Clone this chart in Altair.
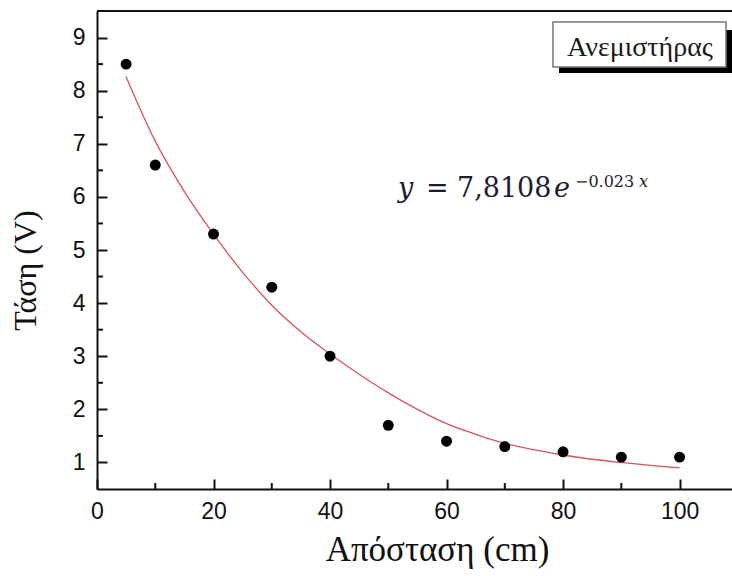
import altair as alt
import pandas as pd

# measured points
dist_cm = [5, 10, 20, 30, 40, 50, 60, 70, 80, 90, 100]
voltage = [8.5, 6.6, 5.3, 4.3, 3.0, 1.7, 1.4, 1.3, 1.2, 1.1, 1.1]

# fitted curve
fit_x = [5, 10, 15, 20, 25, 30, 35, 40, 45, 50, 55, 60, 65, 70, 75, 80, 85, 90, 95, 100]
fit_y = [8.26, 7.05, 6.10, 5.30, 4.58, 3.96, 3.46, 3.04, 2.66, 2.31, 2.00, 1.73,
         1.53, 1.36, 1.24, 1.14, 1.06, 1.00, 0.945, 0.90]

x_major = [0, 20, 40, 60, 80, 100]
x_minor = [10, 30, 50, 70, 90]
y_major = [1, 2, 3, 4, 5, 6, 7, 8, 9]
y_minor = [1.5, 2.5, 3.5, 4.5, 5.5, 6.5, 7.5, 8.5]

W, H = 635, 478
xs = alt.Scale(domain=[0, 109], nice=False, zero=False)
ys = alt.Scale(domain=[0.5, 9.5], nice=False, zero=False)

LABEL_FONT = "Liberation Sans"
TITLE_FONT = "Liberation Serif"
AX = "#111111"

xaxis = alt.Axis(values=x_major, tickSize={"expr": "-10"}, tickColor=AX, tickWidth=2,
                 grid=False, labelFlush=False,
                 labelFont=LABEL_FONT, labelFontSize=23, labelColor=AX,
                 labelPadding=21, domainColor=AX, domainWidth=2,
                 title="Απόσταση (cm)", titleFont=TITLE_FONT, titleFontSize=35,
                 titleFontWeight="normal", titleColor=AX,
                 titleX=340, titleY=71, titleBaseline="alphabetic", titleAnchor="middle")
yaxis = alt.Axis(values=y_major, tickSize={"expr": "-10"}, tickColor=AX, tickWidth=2,
                 grid=False, labelFlush=False,
                 labelFont=LABEL_FONT, labelFontSize=23, labelColor=AX,
                 labelPadding=22, domainColor=AX, domainWidth=2,
                 title="Τάση (V)", titleFont=TITLE_FONT, titleFontSize=32,
                 titleFontWeight="normal", titleColor=AX,
                 titleX=-62, titleY=259, titleBaseline="alphabetic", titleAngle=270)

curve = alt.Chart(pd.DataFrame({"x": fit_x, "y": fit_y})).mark_line(
    color="#d9545a", strokeWidth=1.3, interpolate="monotone").encode(
    x=alt.X("x:Q", scale=xs, axis=xaxis),
    y=alt.Y("y:Q", scale=ys, axis=yaxis),
)

dots = alt.Chart(pd.DataFrame({"x": dist_cm, "y": voltage})).mark_circle(
    color="black", opacity=1, size=120).encode(
    x=alt.X("x:Q", scale=xs),
    y=alt.Y("y:Q", scale=ys),
)

xmin = alt.Chart(pd.DataFrame({"x": x_minor})).mark_rule(color=AX, strokeWidth=2).encode(
    x=alt.X("x:Q", scale=xs), y=alt.value(H), y2=alt.value(H - 6))
ymin = alt.Chart(pd.DataFrame({"v": y_minor})).mark_rule(color=AX, strokeWidth=2).encode(
    y=alt.Y("v:Q", scale=ys), x=alt.value(0), x2=alt.value(6))

topline = alt.Chart(pd.DataFrame({"a": [0]})).mark_rule(color=AX, strokeWidth=2).encode(
    x=alt.value(0), x2=alt.value(W), y=alt.value(0))

anno = pd.DataFrame({"a": [0]})
shadow = alt.Chart(anno).mark_rect(color="black").encode(
    x=alt.value(462), x2=alt.value(660), y=alt.value(19), y2=alt.value(62))
box = alt.Chart(anno).mark_rect(fill="white", stroke="#777777", strokeWidth=1.5).encode(
    x=alt.value(456), x2=alt.value(629), y=alt.value(11), y2=alt.value(56))
box_text = alt.Chart(anno).mark_text(text="Ανεμιστήρας", font=TITLE_FONT, fontSize=28,
                                     color="#1a1a1a", align="center", baseline="alphabetic").encode(
    x=alt.value(543), y=alt.value(45))

EQ = "#1c1c30"
EQF = "DejaVu Serif"
def piece(txt, px, py, size, italic=False):
    return alt.Chart(anno).mark_text(text=txt, font=EQF, fontSize=size, color=EQ,
                                     fontStyle="italic" if italic else "normal",
                                     align="left", baseline="alphabetic").encode(
        x=alt.value(px - 97), y=alt.value(py - 11))

eq = (piece("y", 398, 197, 27, True) + piece("=", 426, 197, 27) +
      piece("7,8108", 457, 197, 27) + piece("e", 554, 197, 27, True) +
      piece("−0.023", 575, 187, 16) + piece("x", 639, 187, 16, True))

chart = alt.layer(curve, dots, xmin, ymin, topline, shadow, box, box_text, eq).properties(
    width=W, height=H,
    autosize=alt.AutoSizeParams(type="none"),
    padding={"left": 97, "top": 11, "right": 0, "bottom": 87},
    background="white",
).configure_view(stroke=None)

chart.save("out.html", embed_options={"renderer": "svg", "actions": False})
